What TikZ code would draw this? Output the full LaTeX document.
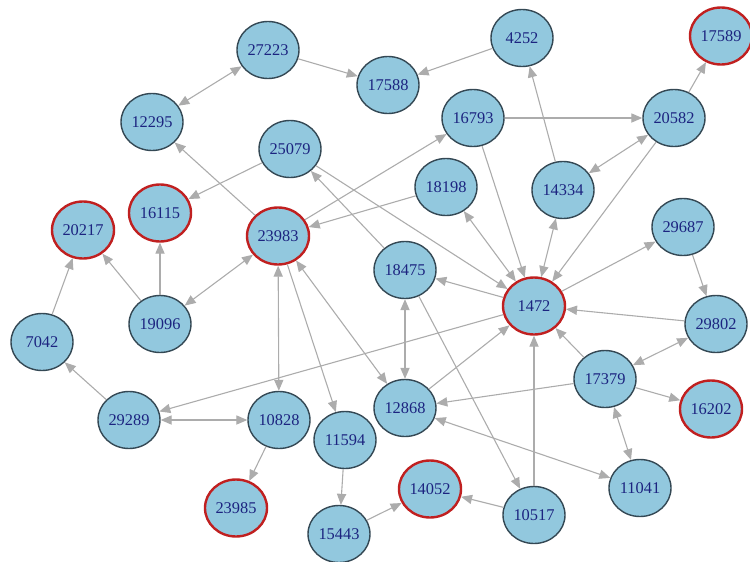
\documentclass[tikz,border=0pt]{standalone}
\usepackage{fontspec}
\setmainfont{Liberation Serif}
\usetikzlibrary{shapes.geometric,arrows.meta}
\definecolor{nodefill}{RGB}{146,200,222}
\definecolor{nodeborder}{RGB}{52,72,84}
\definecolor{hubborder}{RGB}{192,32,32}
\definecolor{labelcol}{RGB}{28,36,128}
\definecolor{edgecol}{RGB}{172,172,172}
\tikzset{
  vnode/.style={ellipse, draw=nodeborder, line width=0.7pt, fill=nodefill,
    minimum width=31pt, minimum height=28.5pt, inner sep=0pt,
    text=labelcol, font=\fontsize{8.2pt}{9pt}\selectfont},
  hub/.style={vnode, draw=hubborder, line width=1.2pt},
  edge/.style={draw=edgecol, line width=0.55pt, -{Triangle[length=5.5pt,width=4.6pt]}},
  bedge/.style={draw=edgecol, line width=0.55pt, {Triangle[length=5.5pt,width=4.6pt]}-{Triangle[length=5.5pt,width=4.6pt]}}
}
\begin{document}
\begin{tikzpicture}[x=0.5pt,y=-0.5pt]
\useasboundingbox (0,0) rectangle (750,562);
% nodes
\node[vnode] (n27223) at (268,50) {27223};
\node[vnode] (n12295) at (152,122) {12295};
\node[vnode] (n25079) at (290,149) {25079};
\node[vnode] (n17588) at (388,85) {17588};
\node[vnode] (n4252) at (522,38) {4252};
\node[hub] (n17589) at (721,36) {17589};
\node[vnode] (n16793) at (473,118) {16793};
\node[vnode] (n20582) at (674,118) {20582};
\node[vnode] (n18198) at (446,187) {18198};
\node[vnode] (n14334) at (563,190) {14334};
\node[hub] (n20217) at (83,230) {20217};
\node[hub] (n16115) at (160,213) {16115};
\node[hub] (n23983) at (278,236) {23983};
\node[vnode] (n29687) at (683,227) {29687};
\node[vnode] (n18475) at (405,270) {18475};
\node[hub] (n1472) at (534,306) {1472};
\node[vnode] (n19096) at (160,324) {19096};
\node[vnode] (n7042) at (42,342) {7042};
\node[vnode] (n29802) at (716,324) {29802};
\node[vnode] (n17379) at (605,379) {17379};
\node[vnode] (n29289) at (129,420) {29289};
\node[vnode] (n10828) at (279,420) {10828};
\node[vnode] (n12868) at (405,408) {12868};
\node[vnode] (n11594) at (345,440) {11594};
\node[hub] (n16202) at (711,409) {16202};
\node[vnode] (n11041) at (640,488) {11041};
\node[hub] (n14052) at (430,489) {14052};
\node[vnode] (n10517) at (534,515) {10517};
\node[hub] (n23985) at (236,508) {23985};
\node[vnode] (n15443) at (339,534) {15443};
% edges
\begin{scope}[on background layer/.style={}]
\path[bedge] (n27223) -- (n12295);
\path[edge] (n27223) -- (n17588);
\path[edge] (n4252) -- (n17588);
\path[edge] (n16793) -- (n20582);
\path[edge] (n20582) -- (n17589);
\path[edge] (n14334) -- (n4252);
\path[bedge] (n14334) -- (n20582);
\path[edge] (n20582) -- (n1472);
\path[edge] (n16793) -- (n1472);
\path[bedge] (n18198) -- (n1472);
\path[bedge] (n14334) -- (n1472);
\path[edge] (n1472) -- (n29687);
\path[edge] (n29687) -- (n29802);
\path[edge] (n29802) -- (n1472);
\path[bedge] (n29802) -- (n17379);
\path[edge] (n17379) -- (n1472);
\path[edge] (n17379) -- (n16202);
\path[edge] (n17379) -- (n12868);
\path[bedge] (n17379) -- (n11041);
\path[bedge] (n12868) -- (n11041);
\path[edge] (n10517) -- (n1472);
\path[edge] (n10517) -- (n14052);
\path[edge] (n15443) -- (n14052);
\path[edge] (n11594) -- (n15443);
\path[edge] (n18475) -- (n10517);
\path[bedge] (n18475) -- (n12868);
\path[edge] (n1472) -- (n18475);
\path[edge] (n12868) -- (n1472);
\path[edge] (n1472) -- (n29289);
\path[bedge] (n29289) -- (n10828);
\path[edge] (n29289) -- (n7042);
\path[edge] (n7042) -- (n20217);
\path[edge] (n19096) -- (n20217);
\path[edge] (n19096) -- (n16115);
\path[bedge] (n19096) -- (n23983);
\path[bedge] (n23983) -- (n10828);
\path[edge] (n23983) -- (n11594);
\path[bedge] (n23983) -- (n12868);
\path[edge] (n23983) -- (n12295);
\path[edge] (n25079) -- (n16115);
\path[edge] (n23983) -- (n16793);
\path[edge] (n18198) -- (n23983);
\path[edge] (n25079) -- (n1472);
\path[edge] (n18475) -- (n25079);
\path[edge] (n10828) -- (n23985);
\end{scope}
\end{tikzpicture}
\end{document}
